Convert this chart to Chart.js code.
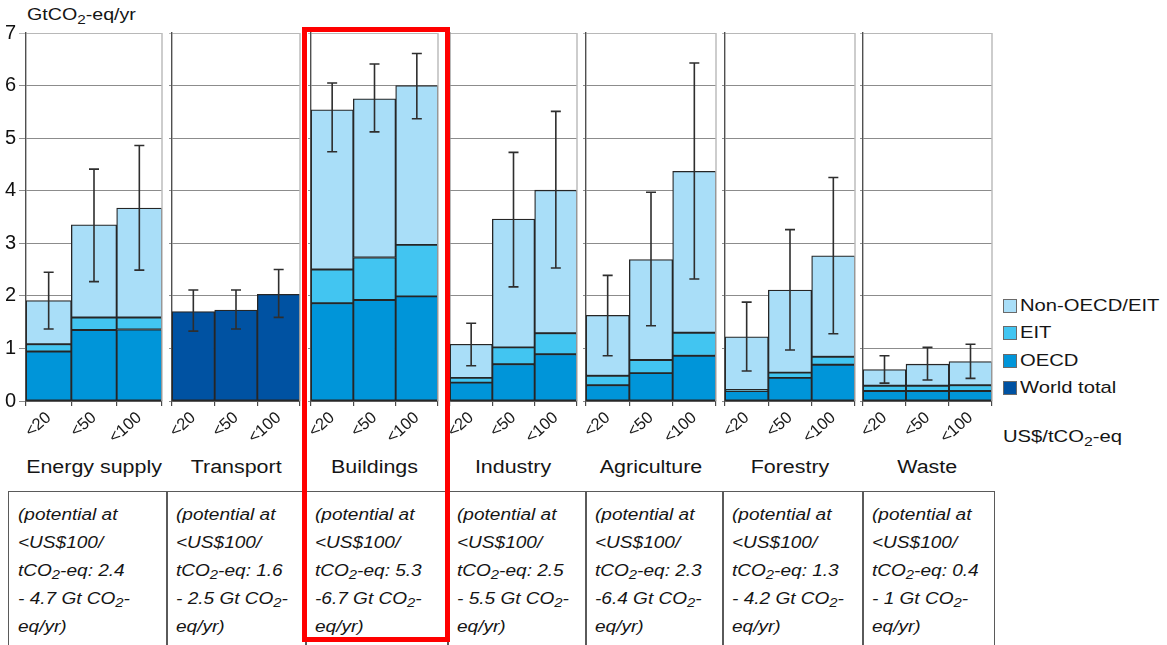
<!DOCTYPE html>
<html>
<head>
<meta charset="utf-8">
<title>Economic mitigation potential by sector</title>
<script src="https://cdn.jsdelivr.net/npm/chart.js@4.4.1/dist/chart.umd.min.js"></script>
<style>
  html, body { margin: 0; padding: 0; background: #fff; }
  #stage { position: relative; width: 1167px; height: 645px; overflow: hidden;
           font-family: "Liberation Sans", Arial, sans-serif; color: #151515; }
  .panel { position: absolute; }
  .wide { display: inline-block; white-space: nowrap; transform: scaleX(1.19); transform-origin: left center; }
  .wideC { display: inline-block; white-space: nowrap; transform: scaleX(1.19); transform-origin: center center; }
  sub { font-size: 0.78em; vertical-align: -0.28em; line-height: 0; }
  #unitY { position: absolute; left: 27px; top: 4px; font-size: 16.5px; line-height: 20px; }
  #unitX { position: absolute; left: 1003px; top: 426px; font-size: 17px; line-height: 22px; }
  .title { position: absolute; top: 455px; font-size: 18px; line-height: 24px; text-align: center; width: 160px; }
  .box { position: absolute; top: 491px; height: 170px; border: 1.5px solid #5a5a5a; box-sizing: border-box;
         padding: 9px 0 0 9px; font-style: italic; font-size: 16px; line-height: 28px; }
  .box div { height: 28px; }
  #legend { position: absolute; left: 1003px; top: 292px; font-size: 17px; }
  .lg { height: 27.5px; display: flex; align-items: center; }
  .sw { width: 12px; height: 12px; border: 1px solid #6a6a6a; margin-right: 3px; flex: none; }
  #mark { position: absolute; left: 302px; top: 27px; width: 138px; height: 605px; border: 5px solid #ff0000; pointer-events: none; }
</style>
</head>
<body>
<div id="stage">
  <div id="unitY"><span class="wide">GtCO<sub>2</sub>-eq/yr</span></div>
  <div id="unitX"><span class="wide">US$/tCO<sub>2</sub>-eq</span></div>
  <div id="legend"></div>
</div>
<script>
// Sectors and carbon-price bands (US$/tCO2-eq)
const sectors = ['Energy supply', 'Transport', 'Buildings', 'Industry', 'Agriculture', 'Forestry', 'Waste'];
const priceBands = ['<20', '<50', '<100'];
const yTicks = [0, 1, 2, 3, 4, 5, 6, 7];

// Regional mitigation potential, GtCO2-eq/yr, per sector and price band (transport only has a world total)
const oecd      = [[0.94, 1.35, 1.36], null, [1.86, 1.92, 1.99], [0.35, 0.70, 0.89], [0.30, 0.53, 0.86], [0.19, 0.44, 0.69], [0.19, 0.19, 0.19]];
const eit       = [[0.14, 0.24, 0.23], null, [0.64, 0.81, 0.98], [0.09, 0.32, 0.40], [0.18, 0.25, 0.44], [0.02, 0.10, 0.15], [0.10, 0.10, 0.11]];
const nonOecd   = [[0.83, 1.76, 2.08], null, [3.04, 3.02, 3.03], [0.64, 2.44, 2.72], [1.15, 1.91, 3.07], [1.01, 1.57, 1.92], [0.31, 0.41, 0.45]];
const worldTotal = [null, [1.70, 1.73, 2.03], null, null, null, null, null];

// Ranges of global potential for each band
const rangeLow  = [[1.37, 2.27, 2.49], [1.33, 1.37, 1.59], [4.74, 5.12, 5.37], [0.67, 2.17, 2.53], [0.86, 1.43, 2.32], [0.57, 0.97, 1.28], [0.34, 0.40, 0.43]];
const rangeHigh = [[2.45, 4.41, 4.86], [2.11, 2.11, 2.50], [6.05, 6.41, 6.61], [1.48, 4.73, 5.51], [2.39, 3.97, 6.43], [1.88, 3.26, 4.25], [0.86, 1.02, 1.08]];

// Potential at <US$100/tCO2-eq as written in the notes below each sector
const potentialFrom = ['2.4', '1.6', '5.3', '2.5', '2.3', '1.3', '0.4'];
const potentialTo   = ['- 4.7', '- 2.5', '-6.7', '- 5.5', '-6.4', '- 4.2', '- 1'];

// Series names and fills
const seriesNames  = ['Non-OECD/EIT', 'EIT', 'OECD', 'World total'];
const seriesColors = ['#a9def8', '#42c5f1', '#0095d9', '#0052a2'];

// Panel layout (pixels)
const panelLeft  = [26, 172, 311, 450, 586, 725, 863];
const panelRight = [162, 300, 438, 577, 716, 855, 992];
const boxEdges   = [8, 166, 305, 447, 585, 722, 862, 993];
const PLOT_TOP = 33, PLOT_BOTTOM = 401, PAD_TOP = 20, X_AXIS_H = 44;
const FONT = '"Liberation Sans", Arial, sans-serif';

const stage = document.getElementById('stage');

// Legend
const legend = document.getElementById('legend');
seriesNames.forEach((n, k) => {
  const row = document.createElement('div');
  row.className = 'lg';
  row.innerHTML = '<span class="sw" style="background:' + seriesColors[k] + '"></span><span class="wide">' + n + '</span>';
  legend.appendChild(row);
});

// Range whiskers and right-hand frame of each panel
const rangePlugin = {
  id: 'rangeWhiskers',
  afterDatasetsDraw(chart, args, opts) {
    const { ctx, chartArea, scales: { x, y } } = chart;
    ctx.save();
    ctx.strokeStyle = '#bdbdbd';
    ctx.lineWidth = 1.5;
    ctx.beginPath();
    ctx.moveTo(chartArea.right, chartArea.top);
    ctx.lineTo(chartArea.right, chartArea.bottom);
    ctx.stroke();
    ctx.strokeStyle = '#2e2e2e';
    ctx.lineWidth = 1.6;
    opts.low.forEach((lo, j) => {
      const hi = opts.high[j];
      const px = x.getPixelForValue(j);
      const yl = y.getPixelForValue(lo), yh = y.getPixelForValue(hi);
      ctx.beginPath();
      ctx.moveTo(px, yl); ctx.lineTo(px, yh);
      ctx.moveTo(px - 5, yl); ctx.lineTo(px + 5, yl);
      ctx.moveTo(px - 5, yh); ctx.lineTo(px + 5, yh);
      ctx.stroke();
    });
    ctx.restore();
  }
};

function barSet(label, data, color) {
  return {
    label, data,
    backgroundColor: color,
    borderColor: '#262626',
    borderWidth: 1.3,
    borderSkipped: false,
    barPercentage: 1,
    categoryPercentage: 1
  };
}

sectors.forEach((name, i) => {
  const yw = i === 0 ? 26 : 4;
  const wrap = document.createElement('div');
  wrap.className = 'panel';
  wrap.style.left = (panelLeft[i] - yw) + 'px';
  wrap.style.top = (PLOT_TOP - PAD_TOP) + 'px';
  wrap.style.width = (yw + panelRight[i] - panelLeft[i] + 2) + 'px';
  wrap.style.height = (PAD_TOP + PLOT_BOTTOM - PLOT_TOP + X_AXIS_H) + 'px';
  const cv = document.createElement('canvas');
  wrap.appendChild(cv);
  stage.appendChild(wrap);

  const datasets = worldTotal[i]
    ? [barSet(seriesNames[3], worldTotal[i], seriesColors[3])]
    : [barSet(seriesNames[2], oecd[i], seriesColors[2]),
       barSet(seriesNames[1], eit[i], seriesColors[1]),
       barSet(seriesNames[0], nonOecd[i], seriesColors[0])];

  new Chart(cv, {
    type: 'bar',
    data: { labels: priceBands, datasets },
    plugins: [rangePlugin],
    options: {
      responsive: true,
      maintainAspectRatio: false,
      animation: false,
      events: [],
      layout: { padding: { top: PAD_TOP, right: 2, left: 0, bottom: 0 } },
      plugins: {
        legend: { display: false },
        tooltip: { enabled: false },
        rangeWhiskers: { low: rangeLow[i], high: rangeHigh[i] }
      },
      scales: {
        x: {
          stacked: true,
          offset: true,
          grid: { display: true, drawOnChartArea: false, drawTicks: true, tickLength: 5, color: '#4a4a4a', lineWidth: 1.2 },
          border: { display: true, color: '#2a2a2a', width: 1.5 },
          ticks: { autoSkip: false, minRotation: 42, maxRotation: 42, padding: 2, color: '#1a1a1a',
                   font: { family: FONT, size: 16.5 } },
          afterFit(s) { s.height = X_AXIS_H; }
        },
        y: {
          stacked: true,
          min: yTicks[0],
          max: yTicks[yTicks.length - 1],
          afterBuildTicks(s) { s.ticks = yTicks.map(v => ({ value: v })); },
          grid: {
            color: c => (c.tick && c.tick.value === 7) ? '#b8b8b8' : '#8c8c8c',
            lineWidth: 1,
            tickLength: i === 0 ? 7 : 3
          },
          border: { display: true, color: '#505050', width: 1.4 },
          ticks: { display: i === 0, padding: 3, color: '#111',
                   font: { family: FONT, size: 20 } },
          afterFit(s) { s.width = yw; }
        }
      }
    }
  });

  // Sector title
  const t = document.createElement('div');
  t.className = 'title';
  t.style.left = ((panelLeft[i] + panelRight[i]) / 2 - 80) + 'px';
  t.innerHTML = '<span class="wideC">' + name + '</span>';
  stage.appendChild(t);

  // Note box with the <US$100 potential
  const b = document.createElement('div');
  b.className = 'box';
  b.style.left = boxEdges[i] + 'px';
  b.style.width = (boxEdges[i + 1] - boxEdges[i] + 1.5) + 'px';
  const lines = ['(potential at', '&lt;US$100/', 'tCO<sub>2</sub>-eq: ' + potentialFrom[i],
                 potentialTo[i] + ' Gt CO<sub>2</sub>-', 'eq/yr)'];
  b.innerHTML = lines.map(l => '<div><span class="wide">' + l + '</span></div>').join('');
  stage.appendChild(b);
});

// Highlight frame around the buildings sector
const mark = document.createElement('div');
mark.id = 'mark';
stage.appendChild(mark);
</script>
</body>
</html>
